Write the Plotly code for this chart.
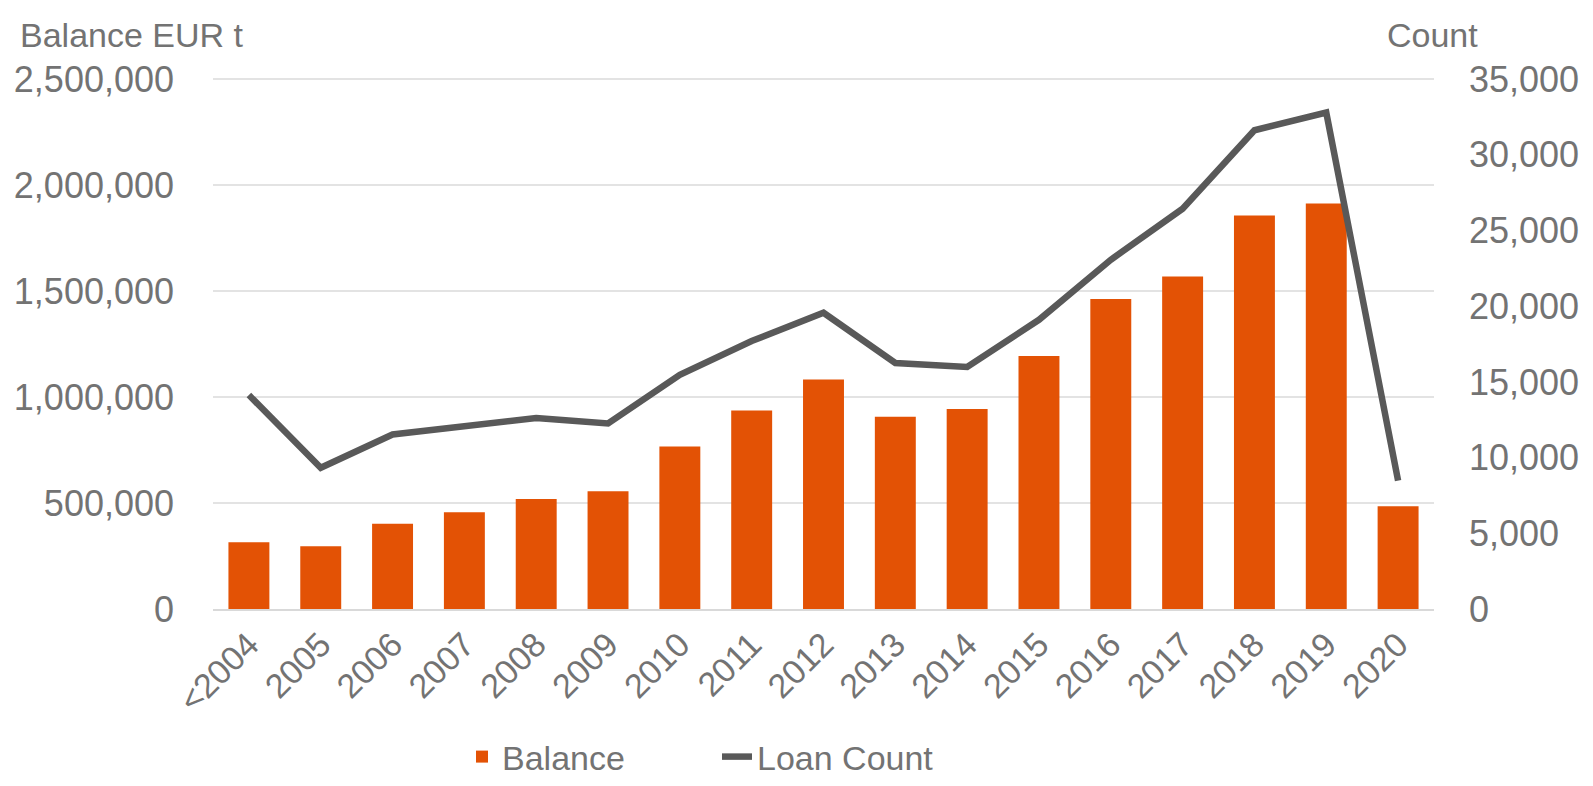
import plotly.graph_objects as go

categories = ["<2004", "2005", "2006", "2007", "2008", "2009", "2010", "2011", "2012",
              "2013", "2014", "2015", "2016", "2017", "2018", "2019", "2020"]
balance = [315000, 296000, 402000, 457000, 519000, 556000, 767000, 937000, 1083000,
           907000, 944000, 1194000, 1463000, 1569000, 1856000, 1913000, 485000]
loan_count = [14130, 9330, 11530, 12050, 12620, 12260, 15470, 17700, 19570,
              16250, 15990, 19100, 23070, 26440, 31620, 32790, 8480]
left_ticks = [0, 500000, 1000000, 1500000, 2000000, 2500000]
right_ticks = [0, 5000, 10000, 15000, 20000, 25000, 30000, 35000]

FONT = "Liberation Sans"
TXT = "#737373"
LINE = "#595959"
fs = 34
yfs = 36

OFF = 8  # page body margin
W, H = 1593 - OFF, 786 - OFF
L = 213 - OFF
T = 77 - OFF
R = W - (1434 - OFF)
B = H - (609 - OFF)
pw, ph = W - L - R, H - T - B

left_max = 2510000
right_max = 35000 * left_max / 2500000

fig = go.Figure()
fig.add_trace(go.Bar(x=categories, y=balance, name="Balance", marker_color="#E35205",
                     marker_line_width=0, yaxis="y"))
fig.add_trace(go.Scatter(x=categories, y=loan_count, name="Loan Count", mode="lines",
                         line=dict(color=LINE, width=6.5), yaxis="y2"))

fig.update_layout(
    width=W, height=H,
    margin=dict(l=L, r=R, t=T, b=B, autoexpand=False),
    paper_bgcolor="white", plot_bgcolor="white",
    font=dict(family=FONT, color=TXT, size=fs),
    bargap=0.43,
    xaxis=dict(tickangle=-45, tickfont=dict(size=fs, color=TXT), showgrid=False,
               showline=True, linecolor="#d9d9d9", linewidth=2, ticks="", automargin=False),
    yaxis=dict(range=[0, left_max], tickvals=left_ticks,
               tickformat=",d", showgrid=True,
               gridcolor="#e3e3e3", gridwidth=2, zeroline=False, automargin=False,
               tickfont=dict(size=yfs, color=TXT), ticklabelstandoff=38),
    yaxis2=dict(range=[0, right_max], tickvals=right_ticks,
                tickformat=",d", overlaying="y", side="right", automargin=False,
                showgrid=False, zeroline=False, tickfont=dict(size=yfs, color=TXT),
                ticklabelstandoff=34),
    legend=dict(orientation="h", x=(462 - OFF - L) / pw, xanchor="left",
                y=-B / ph, yanchor="bottom", entrywidth=210, entrywidthmode="pixels",
                font=dict(size=fs, color=TXT), traceorder="normal"),
    showlegend=True,
)
fig.add_annotation(text="Balance EUR t", xref="paper", yref="paper", x=(18 - OFF - L) / pw,
                   y=1 + (T - (35 - OFF)) / ph, xanchor="left", yanchor="middle", showarrow=False,
                   font=dict(size=34, color=TXT))
fig.add_annotation(text="Count", xref="paper", yref="paper", x=1 + (1385 - 1434) / pw,
                   y=1 + (T - (35 - OFF)) / ph, xanchor="left", yanchor="middle", showarrow=False,
                   font=dict(size=34, color=TXT))

fig.write_html("out.html")
